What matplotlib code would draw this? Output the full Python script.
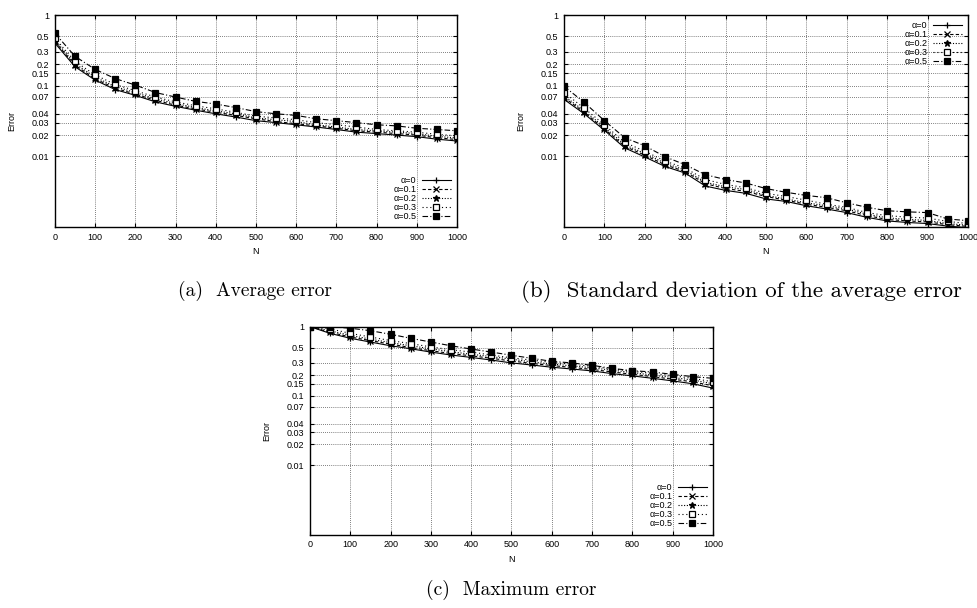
import matplotlib
matplotlib.use("Agg")
import matplotlib.pyplot as plt

plt.rcParams['font.family'] = ['Liberation Sans', 'DejaVu Sans']

# N values (markers every 50)
N = [0, 50, 100, 150, 200, 250, 300, 350, 400, 450, 500,
     550, 600, 650, 700, 750, 800, 850, 900, 950, 1000]

labels = ['α=0', 'α=0.1', 'α=0.2', 'α=0.3', 'α=0.5']

# (a) Average error
avg_a0 = [0.40, 0.185, 0.12, 0.088, 0.073, 0.059, 0.051, 0.045, 0.040, 0.036, 0.032,
          0.030, 0.028, 0.026, 0.024, 0.022, 0.021, 0.020, 0.019, 0.0175, 0.0165]
avg_a1 = [0.42, 0.195, 0.125, 0.092, 0.076, 0.062, 0.053, 0.047, 0.042, 0.038, 0.034,
          0.031, 0.029, 0.027, 0.025, 0.023, 0.022, 0.021, 0.020, 0.0183, 0.0173]
avg_a2 = [0.44, 0.205, 0.132, 0.097, 0.080, 0.065, 0.056, 0.049, 0.044, 0.040, 0.035,
          0.033, 0.031, 0.028, 0.026, 0.024, 0.023, 0.022, 0.021, 0.0192, 0.0182]
avg_a3 = [0.47, 0.22, 0.142, 0.104, 0.085, 0.069, 0.059, 0.052, 0.047, 0.042, 0.037,
          0.035, 0.033, 0.030, 0.028, 0.026, 0.024, 0.023, 0.022, 0.0205, 0.0195]
avg_a5 = [0.55, 0.26, 0.17, 0.126, 0.102, 0.080, 0.069, 0.060, 0.055, 0.049, 0.043,
          0.040, 0.038, 0.034, 0.032, 0.030, 0.028, 0.027, 0.025, 0.024, 0.023]

# (b) Standard deviation of the average error
std_a0 = [0.064, 0.040, 0.0234, 0.0132, 0.0098, 0.0072, 0.0058, 0.0038, 0.0033, 0.0030, 0.0025,
          0.0023, 0.0020, 0.0018, 0.0016, 0.00137, 0.00122, 0.00116, 0.00112, 0.00103, 0.00098]
std_a1 = [0.068, 0.042, 0.0245, 0.0139, 0.0104, 0.0076, 0.0061, 0.0041, 0.0035, 0.0032, 0.0027,
          0.0024, 0.0021, 0.0019, 0.0017, 0.00145, 0.00128, 0.00122, 0.00118, 0.00108, 0.00102]
std_a2 = [0.072, 0.044, 0.026, 0.0146, 0.0110, 0.0080, 0.0064, 0.0043, 0.0037, 0.0034, 0.0028,
          0.0025, 0.0022, 0.0020, 0.0018, 0.00152, 0.00135, 0.00128, 0.00124, 0.00112, 0.00106]
std_a3 = [0.080, 0.048, 0.028, 0.0158, 0.0118, 0.0086, 0.0068, 0.0047, 0.0040, 0.0036, 0.0030,
          0.0027, 0.0024, 0.0021, 0.0019, 0.0016, 0.00145, 0.00138, 0.00134, 0.0012, 0.00112]
std_a5 = [0.098, 0.058, 0.032, 0.0184, 0.0141, 0.0099, 0.0076, 0.0055, 0.0047, 0.0042, 0.0035,
          0.0031, 0.0028, 0.0026, 0.0022, 0.0019, 0.0017, 0.00164, 0.0016, 0.0013, 0.00123]

# (c) Maximum error
max_a0 = [1.0, 0.80, 0.68, 0.60, 0.53, 0.48, 0.43, 0.39, 0.36, 0.33, 0.30,
          0.28, 0.26, 0.245, 0.23, 0.21, 0.195, 0.18, 0.165, 0.15, 0.13]
max_a1 = [1.0, 0.83, 0.71, 0.63, 0.56, 0.50, 0.45, 0.41, 0.38, 0.35, 0.32,
          0.295, 0.275, 0.258, 0.242, 0.222, 0.206, 0.19, 0.175, 0.16, 0.14]
max_a2 = [1.0, 0.87, 0.75, 0.66, 0.59, 0.53, 0.48, 0.435, 0.40, 0.37, 0.34,
          0.31, 0.29, 0.272, 0.255, 0.235, 0.218, 0.20, 0.185, 0.17, 0.15]
max_a3 = [1.0, 0.93, 0.80, 0.71, 0.63, 0.57, 0.51, 0.465, 0.43, 0.39, 0.355,
          0.33, 0.305, 0.287, 0.268, 0.245, 0.228, 0.212, 0.196, 0.18, 0.16]
max_a5 = [1.0, 1.0, 0.95, 0.875, 0.776, 0.68, 0.60, 0.53, 0.476, 0.43, 0.387,
          0.35, 0.316, 0.30, 0.277, 0.25, 0.232, 0.222, 0.205, 0.19, 0.18]

yticks = [1, 0.5, 0.3, 0.2, 0.15, 0.1, 0.07, 0.04, 0.03, 0.02, 0.01]
ytick_labels = ['1', '0.5', '0.3', '0.2', '0.15', '0.1', '0.07', '0.04', '0.03', '0.02', '0.01']
xticks = [0, 100, 200, 300, 400, 500, 600, 700, 800, 900, 1000]

styles = [
    dict(linestyle='-', marker='+', mfc='black'),
    dict(linestyle=(0, (3, 2)), marker='x', mfc='black'),
    dict(linestyle=(0, (1, 1.5)), marker='*', mfc='black'),
    dict(linestyle=(0, (1, 2.5)), marker='s', mfc='white', markersize=4),
    dict(linestyle=(0, (5, 2, 1, 2)), marker='s', mfc='black', markersize=4.5),
]


def draw(ax, series, legend_loc, anchor):
    for vals, lab, st in zip(series, labels, styles):
        kw = dict(color='black', lw=0.8, markersize=5, mew=0.9)
        kw.update(st)
        ax.plot(N, vals, label=lab, **kw)
    ax.set_yscale('log')
    ax.set_ylim(0.001, 1)
    ax.set_xlim(0, 1000)
    ax.set_yticks(yticks)
    ax.set_yticklabels(ytick_labels)
    ax.minorticks_off()
    ax.set_xticks(xticks)
    ax.grid(True, color='#555555', linestyle=(0, (1, 1.5)), lw=0.6)
    ax.tick_params(direction='in', top=True, right=True, labelsize=6.5, length=3, pad=4)
    for s in ax.spines.values():
        s.set_linewidth(1.0)
    ax.set_xlabel('N', fontsize=6.5)
    ax.set_ylabel('Error', fontsize=6.5, labelpad=11)
    ax.legend(loc=legend_loc, bbox_to_anchor=anchor, frameon=False, fontsize=6.5,
              markerfirst=False, handlelength=3.2, labelspacing=0.0,
              handletextpad=0.6, borderpad=0.2)


fig = plt.figure(figsize=(9.78, 6.08), dpi=100)

ax_a = fig.add_axes([0.0562, 0.6266, 0.411, 0.3487])
draw(ax_a, [avg_a0, avg_a1, avg_a2, avg_a3, avg_a5], 'lower right', (1.0, 0.0))

ax_b = fig.add_axes([0.5767, 0.6266, 0.413, 0.3487])
draw(ax_b, [std_a0, std_a1, std_a2, std_a3, std_a5], 'upper right', (1.0, 1.0))

ax_c = fig.add_axes([0.317, 0.1207, 0.412, 0.342])
draw(ax_c, [max_a0, max_a1, max_a2, max_a3, max_a5], 'lower right', (1.0, 0.0))

fig.text(255 / 978, 1 - 291 / 608, '(a)  Average error', family='cmr10',
         fontsize=14, ha='center', va='center')
fig.text(741 / 978, 1 - 291 / 608, '(b)  Standard deviation of the average error',
         family='cmr10', fontsize=16.5, ha='center', va='center')
fig.text(511 / 978, 1 - 590 / 608, '(c)  Maximum error', family='cmr10',
         fontsize=14, ha='center', va='center')

fig.savefig('out.png', dpi=100)
